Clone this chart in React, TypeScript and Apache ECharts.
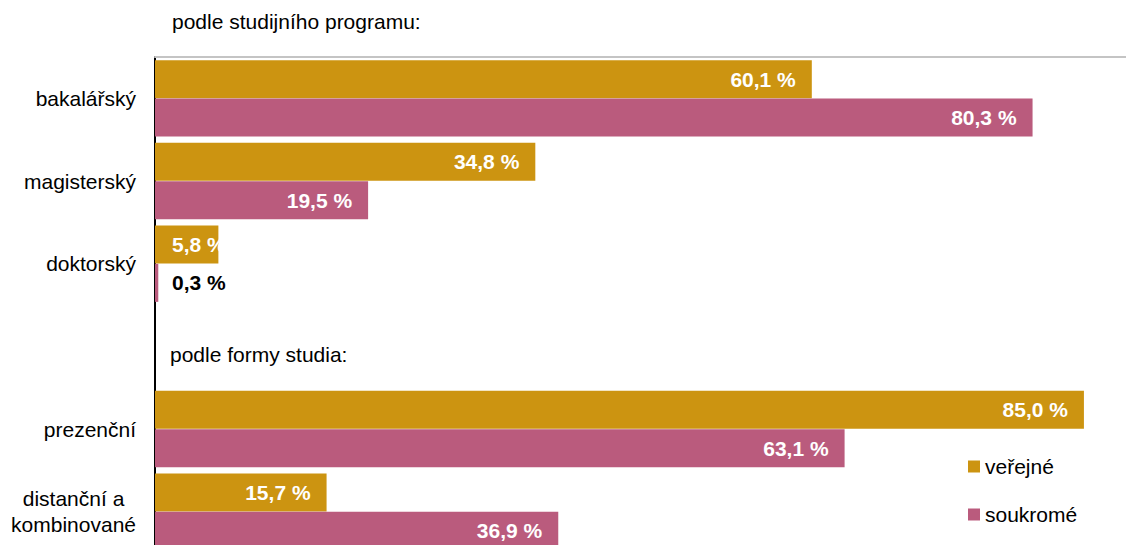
import React, { useEffect, useRef } from "react";
import * as echarts from "echarts";

const categories = ["bakalářský", "magisterský", "doktorský", "", "prezenční", "distanční a\nkombinované"];
const verejne = [60.1, 34.8, 5.8, null, 85.0, 15.7];
const soukrome = [80.3, 19.5, 0.3, null, 63.1, 36.9];
const seriesNames = ["veřejné", "soukromé"];
const sectionTitles = ["podle studijního programu:", "podle formy studia:"];

const GOLD = "#CC9411";
const PINK = "#BA5B7D";
const FONT = "'Liberation Sans', Arial, sans-serif";

const fmt = (v: number) => v.toFixed(1).replace(".", ",") + " %";

function buildData(values: (number | null)[], smallBlack: boolean) {
  return values.map((v) => {
    if (v === null) return "-";
    if (v < 10) {
      return {
        value: v,
        label: {
          position: "insideLeft",
          distance: 17,
          color: smallBlack && v < 1 ? "#000" : "#fff",
        },
      };
    }
    return v;
  });
}

export default function App() {
  const ref = useRef<HTMLDivElement>(null);
  useEffect(() => {
    if (!ref.current) return;
    const chart = echarts.init(ref.current, null, { renderer: "svg" });
    const labelBase = {
      show: true,
      position: "insideRight",
      distance: 16,
      color: "#fff",
      fontWeight: "bold",
      fontSize: 21,
      fontFamily: FONT,
      formatter: (p: any) => fmt(p.value),
    };
    chart.setOption({
      animation: false,
      grid: {
        left: 155,
        right: 0,
        top: 57,
        height: 496,
        containLabel: false,
        outerBoundsMode: "none",
      },
      xAxis: {
        type: "value",
        position: "top",
        min: 0,
        max: 88.85,
        axisLine: { show: true, lineStyle: { color: "#c4c4c4", width: 2 } },
        axisTick: { show: false },
        axisLabel: { show: false },
        splitLine: { show: false },
      },
      yAxis: {
        type: "category",
        inverse: true,
        data: categories,
        axisLine: { show: true, onZero: false, lineStyle: { color: "#000", width: 2 } },
        axisTick: { show: false },
        axisLabel: {
          margin: 19,
          fontSize: 21,
          fontFamily: FONT,
          color: "#000",
          lineHeight: 26,
          formatter: (v: string) =>
            v
              .split("\n")
              .map((s) => "{c|" + s + "}")
              .join("\n"),
          rich: { c: { align: "center", fontSize: 21, fontFamily: FONT, color: "#000", lineHeight: 26 } },
        },
      },
      legend: {
        orient: "vertical",
        left: 963,
        top: 451,
        itemWidth: 12,
        itemHeight: 12,
        itemGap: 27,
        icon: "rect",
        textStyle: { fontSize: 21, fontFamily: FONT, color: "#000", lineHeight: 21 },
        data: seriesNames,
      },
      graphic: [
        {
          type: "text",
          left: 172,
          top: 11,
          style: { text: sectionTitles[0], fontSize: 21, fontFamily: FONT, fill: "#000" },
        },
        {
          type: "text",
          left: 170,
          top: 344,
          style: { text: sectionTitles[1], fontSize: 21, fontFamily: FONT, fill: "#000" },
        },
      ],
      series: [
        {
          name: seriesNames[0],
          type: "bar",
          barWidth: 38,
          barGap: "1%",
          itemStyle: { color: GOLD },
          label: labelBase,
          data: buildData(verejne, false),
        },
        {
          name: seriesNames[1],
          type: "bar",
          barWidth: 38,
          itemStyle: { color: PINK },
          label: labelBase,
          data: buildData(soukrome, true),
        },
      ],
    });
    return () => chart.dispose();
  }, []);
  return (
    <div
      ref={ref}
      style={{ position: "absolute", left: 0, top: 0, width: 1126, height: 545 }}
    />
  );
}
